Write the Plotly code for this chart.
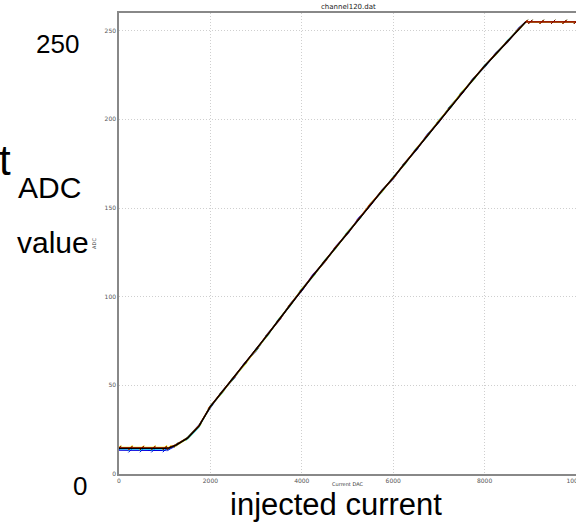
import plotly.graph_objects as go

# DAC scan points (injected current)
dac = [0, 250, 500, 750, 1000, 1100, 1250, 1500, 1750, 2000, 2250, 2500, 2750,
       3000, 3250, 3500, 3750, 4000, 4250, 4500, 4750, 5000, 5250, 5500, 5750,
       6000, 6250, 6500, 6750, 7000, 7250, 7500, 7750, 8000, 8250, 8500, 8750,
       8900, 9000, 9250, 9500, 9750, 10000]

# individual scans (ADC readout)
adc_blue = [13.5, 13.3, 13.4, 13.3, 13.4, 14.0, 16.0, 20.5, 27.5, 37.5, 46.5, 53.5, 62.5,
            69.5, 79.0, 86.5, 96.0, 103.5, 112.5, 119.5, 128.5, 135.5, 144.5, 151.5, 160.0,
            166.5, 175.5, 182.5, 191.5, 198.5, 207.5, 214.5, 223.0, 229.5, 237.5, 243.5, 251.5,
            255, 255, 255, 255, 255, 255]
adc_cyan = [14.2, 14.0, 14.1, 14.0, 14.2, 14.5, 16.8, 19.8, 26.5, 38.5, 45.5, 54.5, 61.5,
            70.5, 78.0, 87.5, 95.0, 104.5, 111.5, 120.5, 127.5, 136.5, 143.5, 152.5, 159.0,
            167.5, 174.5, 183.5, 190.5, 199.5, 206.5, 215.5, 222.0, 230.5, 236.5, 244.5, 250.5,
            255, 255, 255, 255, 255, 255]
adc_green = [14.6, 14.7, 14.5, 14.6, 14.7, 14.8, 16.5, 20.6, 27.3, 37.8, 46.3, 53.7, 62.3,
             69.8, 78.8, 86.8, 95.8, 103.8, 112.3, 119.8, 128.3, 135.8, 144.3, 151.8, 159.8,
             166.8, 175.3, 182.8, 191.3, 198.8, 207.3, 214.8, 222.8, 229.8, 237.3, 243.8, 251.3,
             255, 255, 255, 255, 255, 255]
adc_yellow = [15.0, 15.1, 14.9, 15.0, 15.1, 15.2, 16.0, 20.0, 26.8, 38.3, 45.7, 54.3, 61.7,
              70.3, 78.2, 87.3, 95.2, 104.3, 111.7, 120.3, 127.7, 136.3, 143.7, 152.3, 159.2,
              167.3, 174.7, 183.3, 190.7, 199.3, 206.7, 215.3, 222.2, 230.3, 236.7, 244.3, 250.7,
              255, 255, 255, 255, 255, 255]
adc_orange = [14.8, 14.7, 14.8, 14.8, 14.7, 14.9, 16.6, 20.4, 27.2, 38.2, 46.2, 53.8, 62.2,
              70.2, 78.7, 86.7, 95.7, 104.2, 112.2, 119.7, 128.2, 135.7, 144.2, 152.2, 159.7,
              166.7, 175.2, 183.2, 191.2, 198.7, 207.2, 215.2, 222.7, 230.2, 237.2, 244.2, 251.2,
              255, 255, 255, 255, 255, 255]
adc_darkred = [14.6, 14.6, 14.6, 14.6, 14.6, 14.7, 16.4, 20.3, 27.1, 38.1, 46.1, 54.1, 62.1,
               70.1, 78.6, 87.1, 95.6, 104.1, 112.1, 120.1, 128.1, 136.1, 144.1, 152.1, 159.6,
               167.1, 175.1, 183.1, 191.1, 199.1, 207.1, 215.1, 222.6, 230.1, 237.1, 244.1, 251.1,
               255, 255, 255, 255, 255, 255]
# averaged response, up to saturation
adc_mean = [14.5, 14.4, 14.5, 14.4, 14.5, 14.7, 16.3, 20.2, 27.0, 38.0, 46.0, 54.0, 62.0,
            70.0, 78.5, 87.0, 95.5, 104.0, 112.0, 120.0, 128.0, 136.0, 144.0, 152.0, 159.5,
            167.0, 175.0, 183.0, 191.0, 199.0, 207.0, 215.0, 222.5, 230.0, 237.0, 244.0, 251.0,
            255.0]

x_ticks = [0, 2000, 4000, 6000, 8000, 10000]
y_ticks = [0, 50, 100, 150, 200, 250]

scans = [
    (adc_blue, "#0000dd"),
    (adc_cyan, "#00c8ff"),
    (adc_green, "#30d030"),
    (adc_yellow, "#e8e800"),
    (adc_orange, "#ff5a00"),
    (adc_darkred, "#800000"),
]

fig = go.Figure()
for vals, col in scans:
    fig.add_trace(go.Scatter(
        x=dac, y=vals, mode="lines+markers",
        line=dict(color=col, width=1.3),
        marker=dict(symbol="line-ne", size=4, line=dict(color=col, width=1)),
        showlegend=False, hoverinfo="skip"))
fig.add_trace(go.Scatter(
    x=dac[:len(adc_mean)], y=adc_mean, mode="lines",
    line=dict(color="black", width=1.3), showlegend=False))

tick_font = dict(family="DejaVu Sans", size=6, color="#555")
fig.update_xaxes(
    range=[0, 10000], tickvals=x_ticks, ticktext=[str(v) for v in x_ticks],
    showgrid=True, gridcolor="#cfcfcf", griddash="1px,2px", gridwidth=1,
    showline=True, linecolor="#888", linewidth=1.5, mirror=True,
    zeroline=False, ticks="", tickfont=tick_font, ticklabeloverflow="allow",
    automargin=False,
    title=dict(text="Current DAC", font=dict(family="DejaVu Sans", size=5, color="#333"),
               standoff=0))
fig.update_yaxes(
    range=[0, 260], tickvals=y_ticks, ticktext=[str(v) for v in y_ticks],
    showgrid=True, gridcolor="#cfcfcf", griddash="1px,2px", gridwidth=1,
    showline=True, linecolor="#888", linewidth=1.5, mirror=True,
    zeroline=False, ticks="", tickfont=tick_font, automargin=False,
    title=dict(text="ADC", font=dict(family="DejaVu Sans", size=5, color="#333"),
               standoff=8))

big = dict(family="Liberation Sans", size=30, color="black")
annotations = [
    dict(text="250", x=57, y=44, font=dict(family="Liberation Sans", size=26, color="black")),
    dict(text="t", x=5, y=160, font=dict(family="Liberation Sans", size=42, color="black")),
    dict(text="ADC", x=49, y=188, font=big),
    dict(text="value", x=53, y=242, font=big),
    dict(text="0", x=80, y=486, font=dict(family="Liberation Sans", size=26, color="black")),
    dict(text="injected current", x=336, y=504, font=dict(family="Liberation Sans", size=31, color="black")),
    dict(text="channel120.dat", x=348, y=7, font=dict(family="DejaVu Sans", size=7, color="#222")),
]
# annotation positions are given in page pixels and converted to plot-area paper units
L, T, B, W, H = 119, 13, 50, 576, 524
for a in annotations:
    fig.add_annotation(
        text=a["text"],
        x=(a["x"] - L) / (W - L), y=1 - (a["y"] - T) / (H - T - B),
        xref="paper", yref="paper",
        xanchor="center", yanchor="middle", showarrow=False, font=a["font"])

fig.update_layout(
    width=W, height=H,
    margin=dict(l=L, r=0, t=T, b=B, autoexpand=False),
    paper_bgcolor="white", plot_bgcolor="white",
)

fig.write_html("out.html")
